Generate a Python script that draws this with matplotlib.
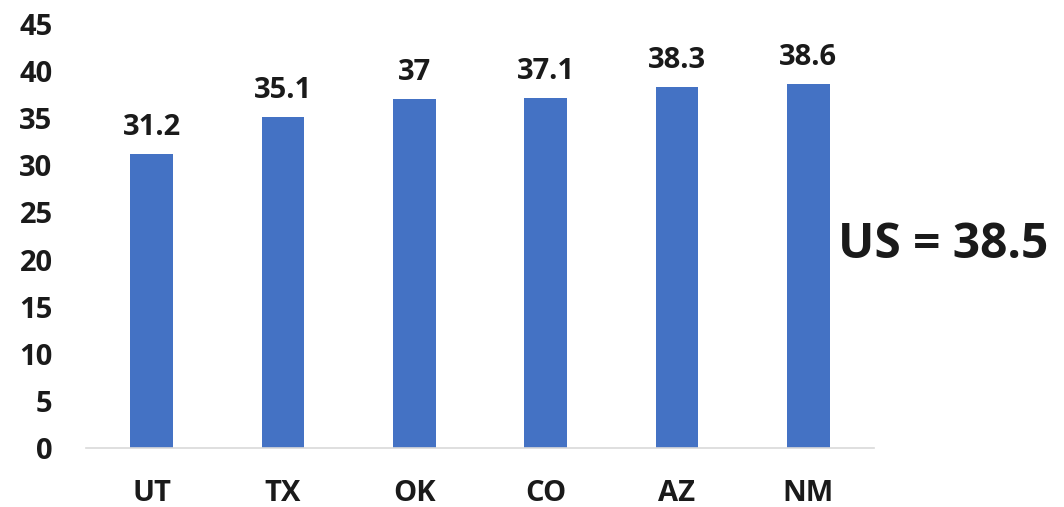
import matplotlib
matplotlib.use("Agg")
import matplotlib.pyplot as plt

states = ["UT", "TX", "OK", "CO", "AZ", "NM"]
values = [31.2, 35.1, 37, 37.1, 38.3, 38.6]
value_labels = ["31.2", "35.1", "37", "37.1", "38.3", "38.6"]
yticks = [0, 5, 10, 15, 20, 25, 30, 35, 40, 45]
us_text = "US = 38.5"

plt.rcParams['font.family'] = ['Open Sans', 'DejaVu Sans']
W, H = 1064, 507
fig = plt.figure(figsize=(W/100, H/100), dpi=100)
ax = fig.add_axes([86/W, (H-448)/H, (874-86)/W, (448-24)/H])

x = range(len(states))
ax.bar(x, values, width=0.325, color="#4472C4", zorder=2)
ax.set_xlim(-0.5, len(states)-0.5)
ax.set_ylim(0, 45)
ax.set_yticks(yticks)
ax.set_yticklabels([str(t) for t in yticks], fontsize=21, fontweight="bold", color="#1a1a1a")
ax.set_xticks(list(x))
ax.set_xticklabels(states, fontsize=21, fontweight="bold", color="#1a1a1a")
ax.tick_params(axis="y", length=0, pad=24)
ax.tick_params(axis="x", length=0, pad=22)
for s in ["top", "right", "left"]:
    ax.spines[s].set_visible(False)
ax.spines["bottom"].set_color("#d9d9d9")
ax.spines["bottom"].set_linewidth(1.2)

for xi, v, t in zip(x, values, value_labels):
    ax.annotate(t, (xi, v), xytext=(0, 9), textcoords="offset points",
                ha="center", va="bottom", fontsize=21, fontweight="bold", color="#1a1a1a")

fig.text(838/W, 1-245/H, us_text, ha="left", va="center", fontsize=34.5, fontweight="bold", color="#1a1a1a")

fig.savefig("out.png", dpi=100)
